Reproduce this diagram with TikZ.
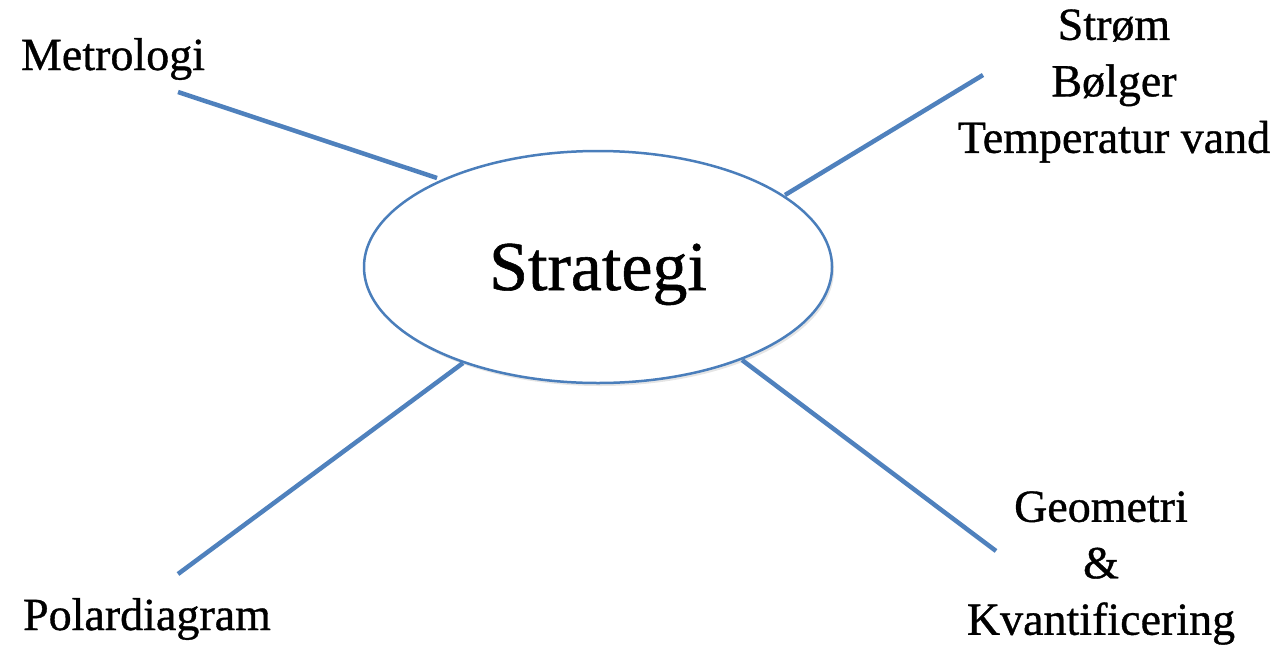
\documentclass[tikz,border=0pt]{standalone}
\usepackage{fontspec}
\setmainfont[FakeBold=0.8]{Liberation Serif}
\usetikzlibrary{shapes.geometric}
\definecolor{lineblue}{RGB}{79,129,189}
\definecolor{ellblue}{RGB}{74,126,187}
\tikzset{
  conn/.style={draw=lineblue, line width=4.5pt},
  lbl/.style={font=\fontsize{46}{56.5}\selectfont, align=center, inner sep=0pt, text=black},
  big/.style={font=\fontsize{70}{80}\selectfont, inner sep=0pt},
}
\begin{document}
\begin{tikzpicture}[x=1pt,y=-1pt]
\useasboundingbox (0,0) rectangle (1287,645);
% ellipse with soft shadow
\fill[black!10] (600,270) ellipse [x radius=234, y radius=116];
\node[draw=ellblue, line width=2.5pt, fill=white, ellipse, minimum width=468pt, minimum height=232pt, inner sep=0pt] (e) at (598,267) {};
% connectors
\coordinate (m1) at (178,92);  \coordinate (m2) at (437,178);
\coordinate (s1) at (983,75);  \coordinate (s2) at (785,195);
\coordinate (p1) at (178,574); \coordinate (p2) at (463,363);
\coordinate (g1) at (996,551); \coordinate (g2) at (742,360);
\draw[conn] (m1) -- (m2);
\draw[conn] (s1) -- (s2);
\draw[conn] (p1) -- (p2);
\draw[conn] (g1) -- (g2);
% labels
\node[big, anchor=base] (c) at (598,290) {Strategi};
\node[lbl, anchor=base] (met) at (113,70) {Metrologi};
\node[lbl, anchor=base] (pol) at (147,630) {Polardiagram};
\node[lbl, anchor=center] (str) at (1114,86) {Strøm\\Bølger\\Temperatur vand};
\node[lbl, anchor=center] (geo) at (1101,568) {Geometri\\\&\\Kvantificering};
\end{tikzpicture}
\end{document}
